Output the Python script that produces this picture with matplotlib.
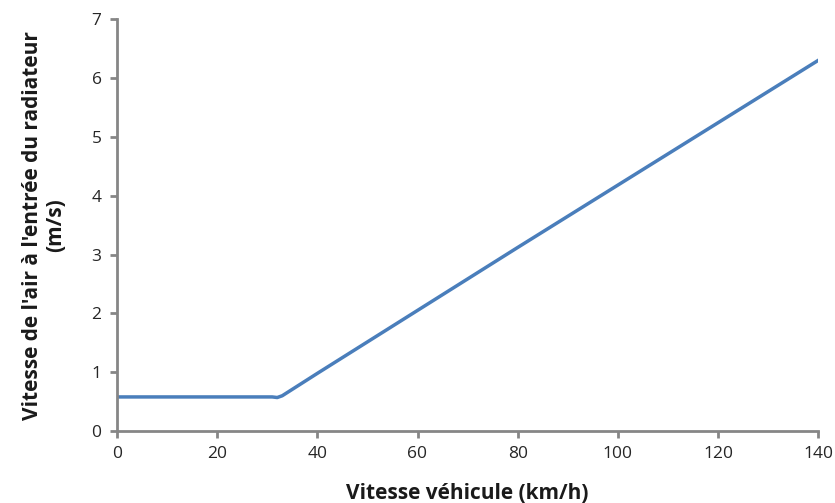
import matplotlib
matplotlib.use("Agg")
import matplotlib.pyplot as plt

# Données
vitesse_vehicule = [0, 10, 20, 31, 32, 33, 40, 60, 80, 100, 120, 140]
vitesse_air = [0.58, 0.58, 0.58, 0.58, 0.57, 0.60, 0.98, 2.05, 3.12, 4.18, 5.24, 6.30]

plt.rcParams["font.family"] = ["Open Sans", "DejaVu Sans"]

fig = plt.figure(figsize=(8.35, 5.03), dpi=100)
ax = fig.add_axes([0.140, 0.143, 0.840, 0.819])

ax.plot(vitesse_vehicule, vitesse_air, color="#4a7ebb", linewidth=2.5)

ax.set_xlim(0, 140)
ax.set_ylim(0, 7)
ax.set_xticks(range(0, 141, 20))
ax.set_yticks(range(0, 8))

for side in ["top", "right"]:
    ax.spines[side].set_visible(False)
for side in ["left", "bottom"]:
    ax.spines[side].set_color("#868686")
    ax.spines[side].set_linewidth(2)
ax.tick_params(colors="#868686", width=2, length=5, labelsize=12.5,
               labelcolor="#262626", pad=6)

ax.set_xlabel("Vitesse véhicule (km/h)", fontsize=15, fontweight="bold",
              color="#1a1a1a", labelpad=15)
ax.set_ylabel("Vitesse de l'air à l'entrée du radiateur\n(m/s)", fontsize=15,
              fontweight="bold", color="#1a1a1a", linespacing=1.15,
              labelpad=18)

fig.savefig("out.png", dpi=100)
plt.close()
